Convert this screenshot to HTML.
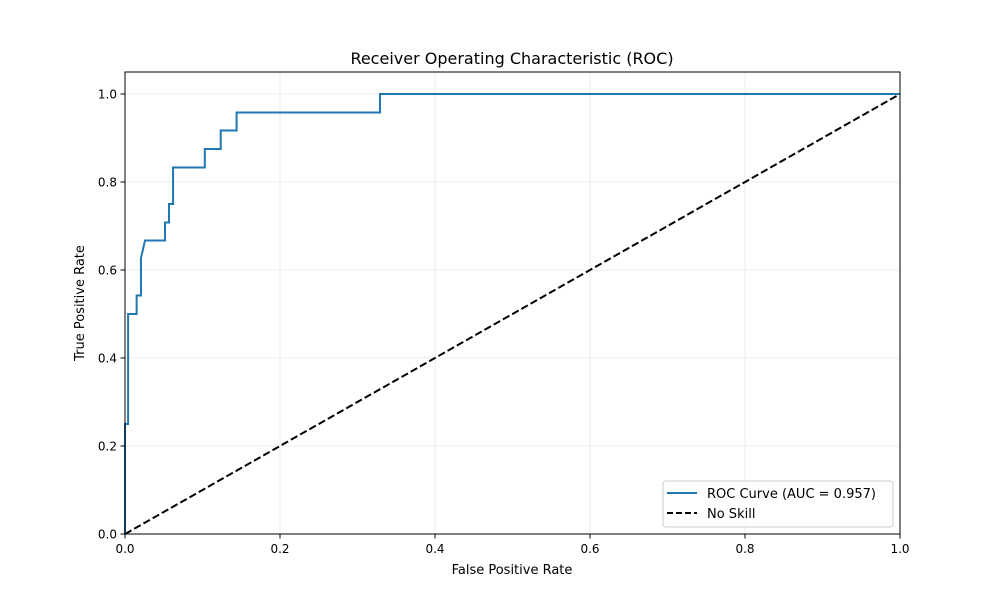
<!DOCTYPE html>
<html><head><meta charset="utf-8"><style>
body{margin:0;background:#fff}
svg text{font-family:"DejaVu Sans","Liberation Sans",sans-serif;fill:#000}
</style></head><body>
<svg id="c" width="1000" height="600" xmlns="http://www.w3.org/2000/svg">
<rect width="1000" height="600" fill="#fff"/>
<g id="grid"></g>
<g id="plot"></g>
<rect x="125" y="72" width="775" height="462" fill="none" stroke="#000" stroke-width="1"/>
<g id="ticks"></g>
<text x="512" y="64" font-size="16" text-anchor="middle">Receiver Operating Characteristic (ROC)</text>
<text x="512" y="574" font-size="13" text-anchor="middle">False Positive Rate</text>
<text x="0" y="0" font-size="13" text-anchor="middle" transform="translate(84,303) rotate(-90)">True Positive Rate</text>
<g>
<rect x="663" y="481" width="230" height="46" rx="3" fill="#fff" fill-opacity="0.8" stroke="#ccc"/>
<line x1="667" y1="493" x2="697" y2="493" stroke="#1f77b4" stroke-width="2"/>
<text x="707" y="498" font-size="13">ROC Curve (AUC = 0.957)</text>
<line x1="667" y1="513" x2="697" y2="513" stroke="#000" stroke-width="2" stroke-dasharray="6,3"/>
<text x="707" y="518" font-size="13">No Skill</text>
</g>
</svg>
<script>
const fpr=[0,0,0.004,0.004,0.015,0.015,0.0206,0.0206,0.0258,0.0516,0.0516,0.0568,0.0568,0.062,0.062,0.103,0.103,0.1235,0.1235,0.144,0.144,0.329,0.329,1];
const tpr=[0,0.25,0.25,0.5,0.5,0.542,0.542,0.627,0.667,0.667,0.708,0.708,0.75,0.75,0.833,0.833,0.875,0.875,0.917,0.917,0.958,0.958,1,1];
const skillX=[0,1];
const skillY=[0,1];
const xTicks=[0,0.2,0.4,0.6,0.8,1.0];
const yTicks=[0,0.2,0.4,0.6,0.8,1.0];
const X=v=>125+v*775, Y=v=>534-v*440;
const NS="http://www.w3.org/2000/svg";
function mk(t,a,p){const e=document.createElementNS(NS,t);for(const k in a)e.setAttribute(k,a[k]);p.appendChild(e);return e;}
const grid=document.getElementById('grid'),ticks=document.getElementById('ticks'),plot=document.getElementById('plot');
xTicks.forEach(v=>{
 const g=mk('line',{x1:X(v),x2:X(v),y1:72,y2:534,stroke:'#b0b0b0','stroke-opacity':0.3,'stroke-width':0.8},grid);
 
 const t=mk('line',{x1:X(v),x2:X(v),y1:534,y2:538.5,stroke:'#000'},ticks);
 
 const l=mk('text',{x:X(v),y:553,'font-size':12,'text-anchor':'middle'},ticks);l.textContent=v.toFixed(1);
 
});
yTicks.forEach(v=>{
 const g=mk('line',{x1:125,x2:900,y1:Y(v),y2:Y(v),stroke:'#b0b0b0','stroke-opacity':0.3,'stroke-width':0.8},grid);
 
 const t=mk('line',{x1:120.5,x2:125,y1:Y(v),y2:Y(v),stroke:'#000'},ticks);
 
 const l=mk('text',{x:117,y:Y(v)+4.5,'font-size':12,'text-anchor':'end'},ticks);l.textContent=v.toFixed(1);
 
});
const ns=mk('polyline',{points:skillX.map((v,i)=>X(v)+','+Y(skillY[i])).join(' '),fill:'none',stroke:'#000','stroke-width':2,'stroke-dasharray':'7.4,3.2'},plot);

const roc=mk('polyline',{points:fpr.map((v,i)=>X(v)+','+Y(tpr[i])).join(' '),fill:'none',stroke:'#1f77b4','stroke-width':2},plot);

</script>
</body></html>
